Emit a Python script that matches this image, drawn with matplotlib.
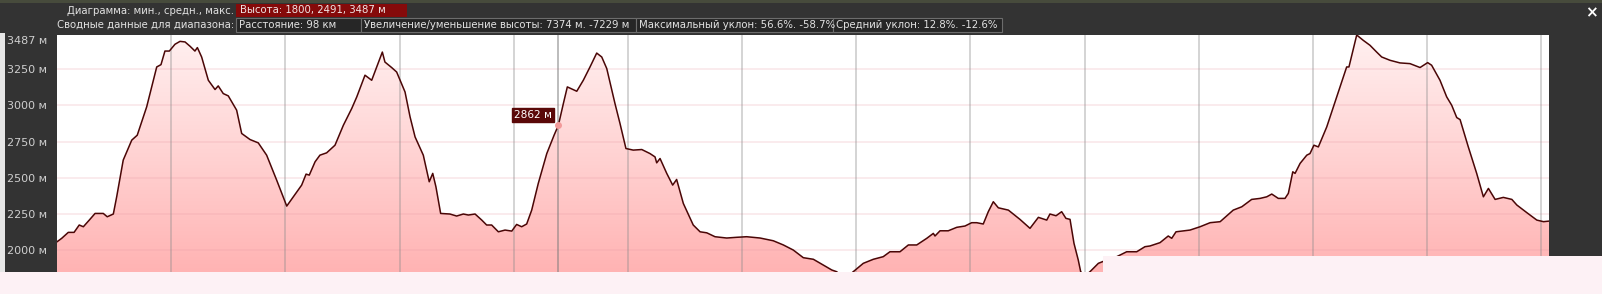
import numpy as np
import matplotlib
matplotlib.use("Agg")
import matplotlib.pyplot as plt
from matplotlib.patches import Rectangle, Polygon
from matplotlib.colors import LinearSegmentedColormap

# elevation profile (distance km, height m)
dist_km = [0.0, 0.31, 0.74, 1.12, 1.46, 1.73, 2.12, 2.50, 3.04, 3.30, 3.70, 3.92, 4.35, 4.91,
           5.27, 5.89, 6.55, 6.83, 7.09, 7.38, 7.75, 8.08, 8.41, 8.74, 9.06, 9.22, 9.50, 9.94,
           10.38, 10.59, 10.92, 11.25, 11.80, 12.13, 12.68, 13.22, 13.77, 14.43, 15.09, 15.52,
           16.07, 16.36, 16.57, 16.95, 17.27, 17.71, 18.26, 18.81, 19.36, 19.69, 20.23, 20.67,
           21.00, 21.37, 21.54, 21.98, 22.31, 22.86, 23.19, 23.52, 24.06, 24.45, 24.68, 24.89,
           25.20, 25.81, 26.25, 26.69, 27.02, 27.46, 27.90, 28.22, 28.55, 28.99, 29.43, 29.87,
           30.19, 30.52, 30.85, 31.18, 31.61, 32.17, 32.65, 32.93, 33.26, 33.52, 34.14, 34.57,
           35.01, 35.45, 35.78, 36.11, 36.65, 36.98, 37.37, 37.85, 38.41, 38.95, 39.28, 39.39,
           39.61, 40.05, 40.44, 40.70, 41.14, 41.79, 42.24, 42.68, 43.22, 43.99, 44.65, 45.30,
           46.18, 47.05, 47.71, 48.36, 49.02, 49.68, 50.33, 50.89, 51.21, 51.76, 52.30, 52.96,
           53.62, 54.27, 54.71, 55.37, 55.92, 56.47, 57.13, 57.56, 57.67, 58.00, 58.54, 59.10,
           59.64, 60.08, 60.41, 60.84, 61.17, 61.50, 61.83, 62.49, 63.25, 63.91, 64.46, 65.01,
           65.22, 65.62, 65.99, 66.27, 66.54, 66.80, 67.08, 67.24, 67.52, 67.85, 68.40, 68.95,
           69.61, 70.26, 70.92, 71.46, 71.79, 72.45, 72.99, 73.22, 73.50, 74.42, 75.08, 75.74,
           76.40, 77.26, 77.82, 78.47, 79.02, 79.46, 79.79, 80.22, 80.66, 80.88, 81.17, 81.32,
           81.65, 82.09, 82.30, 82.56, 82.85, 83.40, 84.06, 84.71, 84.86, 85.15, 85.37, 85.80,
           86.24, 86.68, 87.01, 87.56, 88.21, 88.87, 89.53, 90.03, 90.29, 90.84, 91.28, 91.61,
           91.94, 92.16, 92.70, 93.25, 93.69, 94.02, 94.46, 95.00, 95.56, 95.89, 96.55, 97.20,
           97.64, 98.0]
elev_m = [2057, 2081, 2122, 2122, 2173, 2161, 2207, 2253, 2253, 2230, 2249, 2368, 2622, 2760,
          2794, 2990, 3266, 3282, 3376, 3376, 3423, 3443, 3439, 3409, 3376, 3400, 3335, 3174,
          3110, 3135, 3082, 3066, 2967, 2806, 2764, 2741, 2656, 2483, 2304, 2368,
          2449, 2525, 2518, 2610, 2656, 2672, 2725, 2863, 2979, 3059, 3209, 3174,
          3266, 3369, 3300, 3262, 3231, 3093, 2921, 2782, 2656, 2472, 2530, 2437,
          2253, 2249, 2235, 2249, 2242, 2249, 2207, 2173, 2173, 2126, 2138, 2131,
          2177, 2161, 2180, 2276, 2460, 2667, 2794, 2862, 3013, 3128, 3098, 3174,
          3266, 3362, 3335, 3255, 3013, 2875, 2702, 2691, 2695, 2667, 2644, 2603,
          2633, 2530, 2449, 2488, 2322, 2173, 2126, 2119, 2092, 2083, 2088, 2092,
          2083, 2064, 2035, 2000, 1947, 1936, 1896, 1862, 1850, 1800, 1850, 1908,
          1936, 1954, 1988, 1988, 2035, 2035, 2081, 2115, 2097, 2133, 2133, 2157,
          2166, 2189, 2189, 2180, 2265, 2334, 2292, 2276, 2212, 2150, 2226, 2207,
          2249, 2237, 2265, 2219, 2212, 2046, 1931, 1850, 1820, 1850, 1908, 1931,
          1954, 1988, 1988, 2023, 2028, 2051, 2097, 2081, 2126, 2138, 2161, 2189,
          2196, 2276, 2299, 2350, 2357, 2368, 2387, 2357, 2357, 2392, 2541, 2530,
          2599, 2656, 2667, 2725, 2713, 2851, 3059, 3266, 3266, 3393, 3487, 3450,
          3416, 3369, 3335, 3312, 3294, 3289, 3262, 3296, 3278, 3174, 3059, 3001,
          2916, 2902, 2713, 2530, 2368, 2426, 2350, 2364, 2350, 2311, 2258, 2207,
          2196, 2200]

ytick_vals = [2000, 2250, 2500, 2750, 3000, 3250]
ytick_labels = ["2000 м", "2250 м", "2500 м", "2750 м", "3000 м", "3250 м"]
top_label = "3487 м"
grid_step_km = 7.5
total_km = 98
hover_km = 32.93
hover_elev = 2862

header_row1 = "Диаграмма: мин., средн., макс."
header_height = "Высота: 1800, 2491, 3487 м"
header_row2 = "Сводные данные для диапазона:"
summary = ["Расстояние: 98 км",
           "Увеличение/уменьшение высоты: 7374 м. -7229 м",
           "Максимальный уклон: 56.6%. -58.7%",
           "Средний уклон: 12.8%. -12.6%"]
summary_edges = [236, 361, 636, 833, 1002]

W, H = 1602, 294
DARK = "#333333"
plt.rcParams["font.family"] = ["DejaVu Sans"]

fig = plt.figure(figsize=(W / 100, H / 100), dpi=100, facecolor=DARK)


def fx(x):
    return x / W


def fy(y):
    return 1 - y / H


def rect(x0, y0, x1, y1, fc, ec=None, z=1, lw=0.0):
    r = Rectangle((fx(x0), fy(y1)), (x1 - x0) / W, (y1 - y0) / H,
                  transform=fig.transFigure, facecolor=fc,
                  edgecolor=ec if ec else fc, lw=lw, zorder=z)
    fig.add_artist(r)


# plot area
ax = fig.add_axes([fx(57), fy(272), 1492 / W, 237 / H])
ymin, ymax = 1848, 3487
ax.set_xlim(0, total_km)
ax.set_ylim(ymin, ymax)
ax.set_facecolor("white")
for s in ax.spines.values():
    s.set_visible(False)

# gradient fill under the profile
cmap = LinearSegmentedColormap.from_list("pinkgrad", ["#ffb3b3", "#ffd3d3", "#fff0f0"])
grad = np.linspace(0, 1, 256).reshape(-1, 1)
im = ax.imshow(grad, extent=(0, total_km, ymin, ymax), origin="lower",
               aspect="auto", cmap=cmap, zorder=1)
verts = list(zip(dist_km, elev_m)) + [(total_km, 1500), (0, 1500)]
poly = Polygon(verts, closed=True, facecolor="none", edgecolor="none")
ax.add_patch(poly)
im.set_clip_path(poly)

# grid
for v in ytick_vals:
    ax.axhline(v, color="#e89aa6", alpha=0.2, lw=1.4, zorder=2)
k = grid_step_km
while k < total_km:
    ax.axvline(k, color="#8a8a8a", alpha=0.36, lw=1.4, zorder=2)
    k += grid_step_km

ax.plot(dist_km, elev_m, color="#4a0606", lw=1.1, zorder=3)

# hover marker
ax.axvline(hover_km, color="#7a7a7a", alpha=0.5, lw=1.4, zorder=2)
ax.plot([hover_km], [hover_elev], "o", ms=4, color="#f29a9a", zorder=4)
ax.annotate(f"{hover_elev} м", (hover_km, hover_elev), xytext=(-18, 7.5),
            textcoords="offset points", ha="center", va="center",
            fontsize=7.6, color="white",
            bbox=dict(boxstyle="square,pad=0.18", fc="#5a0808", ec="#5a0808"),
            zorder=5)

ax.set_xticks([])
ax.set_yticks(ytick_vals)
ax.set_yticklabels(ytick_labels)
ax.tick_params(axis="y", length=0, pad=36, labelsize=8, labelcolor="#cfcfcf")
for t in ax.get_yticklabels():
    t.set_horizontalalignment("left")
fig.text(fx(7), fy(36), top_label, ha="left", va="top", fontsize=8, color="#cfcfcf")

# frame decorations
rect(0, 0, W, 3, "#474b3c", z=1)
rect(0, 33, 5, 272, "#e6e6e6", z=1)
rect(0, 272, W, H, "#fdf1f5", z=5)
rect(1103, 256, W, 272, "#fdf1f5", z=5)

# header
fig.text(fx(234), fy(10.5), header_row1, ha="right", va="center",
         fontsize=7.3, color="#e2e2e2")
rect(236, 4, 407, 17, "#850a0a", z=1)
fig.text(fx(240), fy(10.5), header_height, ha="left", va="center",
         fontsize=7.3, color="#f0e6e6")
fig.text(fx(234), fy(25), header_row2, ha="right", va="center",
         fontsize=7.3, color="#e2e2e2")
for i, s in enumerate(summary):
    rect(summary_edges[i], 18, summary_edges[i + 1], 32, "#262626",
         ec="#6c6c6c", lw=0.8, z=1)
    fig.text(fx(summary_edges[i] + 3), fy(25), s, ha="left", va="center",
             fontsize=7.3, color="#e2e2e2")

fig.text(fx(1591), fy(12.5), "×", ha="center", va="center",
         fontsize=11, fontweight="bold", color="white")

fig.savefig("out.png", dpi=100, facecolor=fig.get_facecolor())
